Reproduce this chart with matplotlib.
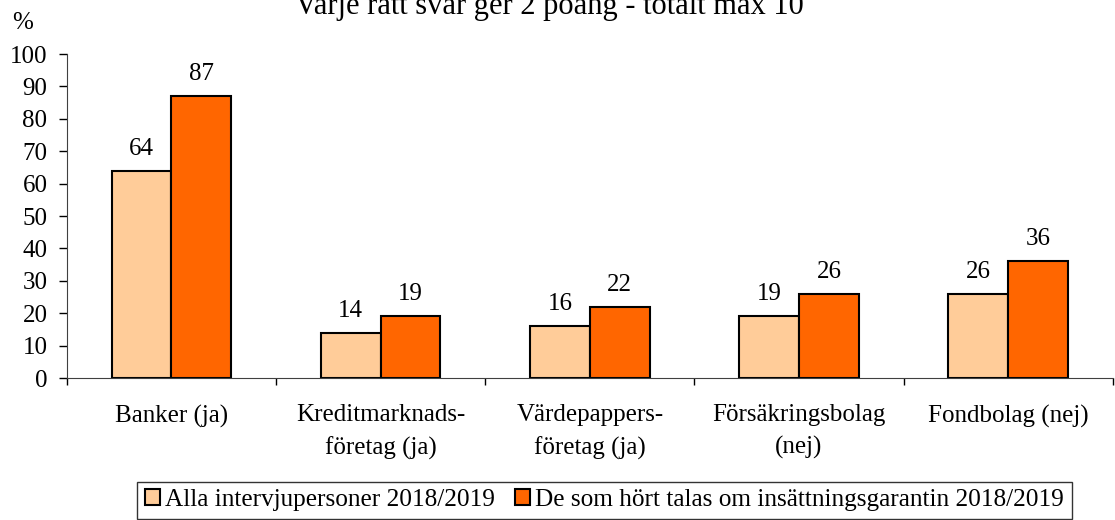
import matplotlib
matplotlib.use("Agg")
import matplotlib.pyplot as plt
import numpy as np

categories = ["Banker (ja)", "Kreditmarknads-\nföretag (ja)", "Värdepappers-\nföretag (ja)",
              "Försäkringsbolag\n(nej)", "Fondbolag (nej)"]
alla = [64, 14, 16, 19, 26]
hort = [87, 19, 22, 26, 36]
series_names = ["Alla intervjupersoner 2018/2019",
                "De som hört talas om insättningsgarantin 2018/2019"]

plt.rcParams["font.family"] = ["Liberation Serif", "DejaVu Serif"]
plt.rcParams["font.size"] = 18

fig = plt.figure(figsize=(11.15, 5.2), dpi=100)
ax = fig.add_axes([0.060, 0.273, 0.938, 0.623])

x = np.arange(len(categories))
w = 0.286
b1 = ax.bar(x - w / 2, alla, w, color="#FFCC99", edgecolor="black", linewidth=1.5,
            label=series_names[0])
b2 = ax.bar(x + w / 2, hort, w, color="#FF6600", edgecolor="black", linewidth=1.5,
            label=series_names[1])

for bars, vals in [(b1, alla), (b2, hort)]:
    for r, v in zip(bars, vals):
        ax.annotate(str(v), (r.get_x() + r.get_width() / 2, v), xytext=(0, 8),
                    textcoords="offset points", ha="center", va="bottom")

ax.set_xlim(-0.5, len(categories) - 0.5)
ax.set_ylim(0, 100)
ax.set_yticks(range(0, 101, 10))
ax.set_xticks(np.arange(-0.5, len(categories), 1.0))
ax.set_xticklabels([])
ax.set_xticks(x, minor=True)
ax.set_xticklabels(categories, minor=True, linespacing=1.55, va="top")
ax.tick_params(axis="x", which="minor", length=0, pad=19)
ax.tick_params(axis="x", which="major", length=5, width=1, direction="out")
ax.tick_params(axis="y", length=6, width=1, direction="out", pad=8)

for s in ["top", "right"]:
    ax.spines[s].set_visible(False)
ax.spines["left"].set_color("#404040")
ax.spines["bottom"].set_color("#404040")

fig.text(0.493, 0.974, "Varje rätt svar ger 2 poäng - totalt max 10", ha="center",
         va="baseline", fontsize=22)
fig.text(0.020, 0.955, "%", ha="center", va="center", fontsize=18)

leg = fig.legend(handles=[b1, b2], loc="center", bbox_to_anchor=(0.542, 0.038),
                 ncol=2, frameon=True, fancybox=False, edgecolor="black",
                 handlelength=0.6, handleheight=0.6, handletextpad=0.2,
                 columnspacing=0.8, borderpad=0.3, fontsize=18.2)
leg.get_frame().set_linewidth(1.0)

fig.savefig("out.png", dpi=100)
